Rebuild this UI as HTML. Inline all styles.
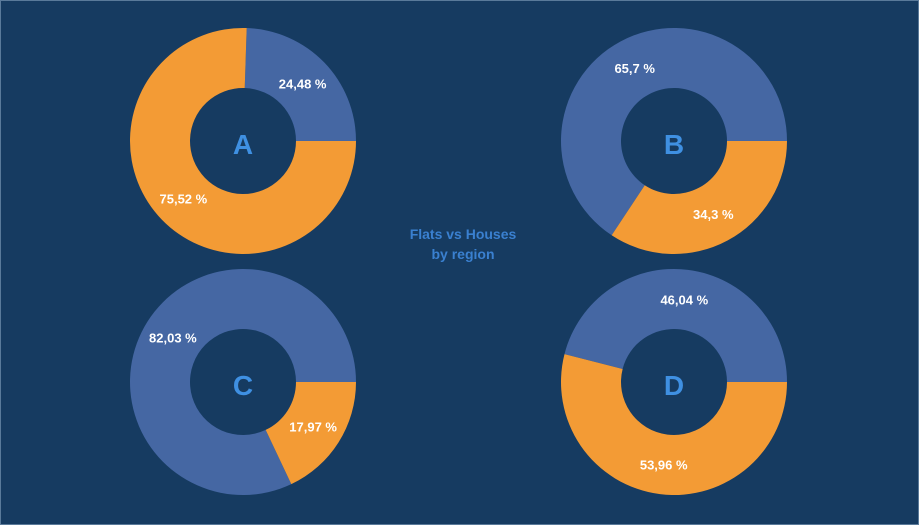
<!DOCTYPE html>
<html><head><meta charset="utf-8"><style>
html,body{margin:0;padding:0;background:#163b61;}
svg{display:block;font-family:"Liberation Sans","DejaVu Sans",sans-serif;}
</style></head><body>
<svg width="919" height="525" viewBox="0 0 919 525">
<rect x="0.5" y="0.5" width="918" height="524" fill="#163b61" stroke="#5a7a9a"/>
<text x="463" y="239" text-anchor="middle" font-size="14" font-weight="bold" fill="#3a80d0">Flats vs Houses</text>
<text x="463" y="259" text-anchor="middle" font-size="14" font-weight="bold" fill="#3a80d0">by region</text>
<g id="charts"></g>
</svg>
<script>
const regions = ["A","B","C","D"];
const flats = [24.48, 65.7, 82.03, 46.04];
const houses = [75.52, 34.3, 17.97, 53.96];
const flatLabels = ["24,48 %","65,7 %","82,03 %","46,04 %"];
const houseLabels = ["75,52 %","34,3 %","17,97 %","53,96 %"];

const centers = [[243,141],[674,141],[243,382],[674,382]];
const R = 113, r = 53, LR = 83;
const colors = ["#4567a3","#f39b35"];
const g = document.getElementById('charts');
const NS = "http://www.w3.org/2000/svg";
function pt(cx,cy,rad,deg){const a=deg*Math.PI/180;return [cx+rad*Math.cos(a), cy-rad*Math.sin(a)];}
function arc(cx,cy,a0,a1){
  const large=(a1-a0)>180?1:0;
  const p0=pt(cx,cy,R,a0),p1=pt(cx,cy,R,a1),q1=pt(cx,cy,r,a1),q0=pt(cx,cy,r,a0);
  return `M${p0} A${R},${R} 0 ${large} 0 ${p1} L${q1} A${r},${r} 0 ${large} 1 ${q0} Z`;
}
regions.forEach((reg,i)=>{
  const [cx,cy]=centers[i];
  const total=flats[i]+houses[i];
  const vals=[flats[i],houses[i]];
  const labs=[flatLabels[i],houseLabels[i]];
  const names=['flats','houses'];
  let a=0;
  vals.forEach((v,j)=>{
    const span=v/total*360;
    const p=document.createElementNS(NS,'path');
    p.setAttribute('d',arc(cx,cy,a,a+span));
    p.setAttribute('fill',colors[j]);
    
    
    g.appendChild(p);
    const [lx,ly]=pt(cx,cy,LR,a+span/2);
    const t=document.createElementNS(NS,'text');
    t.setAttribute('x',lx);t.setAttribute('y',ly+5);
    t.setAttribute('text-anchor','middle');
    t.setAttribute('font-size','13');t.setAttribute('font-weight','bold');
    t.setAttribute('fill','#ffffff');
    t.textContent=labs[j];
    
    
    g.appendChild(t);
    a+=span;
  });
  const c=document.createElementNS(NS,'text');
  c.setAttribute('x',cx);c.setAttribute('y',cy+13);
  c.setAttribute('text-anchor','middle');
  c.setAttribute('font-size','28');c.setAttribute('font-weight','bold');
  c.setAttribute('fill','#3f90e2');
  c.textContent=reg;
  
  
  g.appendChild(c);
});
</script>
</body></html>
